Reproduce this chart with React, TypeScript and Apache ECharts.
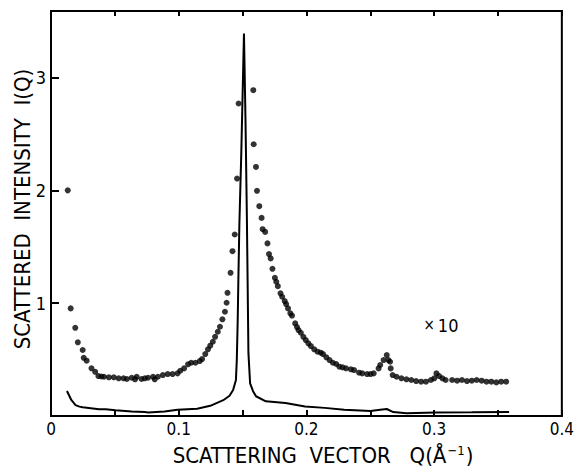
import React, { useEffect, useRef } from "react";
import * as echarts from "echarts";

// Dotted curve (x10 scaled intensity)
const Q_DOTS = [
  0.0131, 0.0154, 0.019, 0.021, 0.0248, 0.0256, 0.0279, 0.0317, 0.0346, 0.0371,
  0.0395, 0.0415, 0.0453, 0.0492, 0.053, 0.0568, 0.0594, 0.0632, 0.0658, 0.0671,
  0.0709, 0.0735, 0.076, 0.0799, 0.0812, 0.0837, 0.0876, 0.0914, 0.0952, 0.0991,
  0.1012, 0.1042, 0.1073, 0.1098, 0.1131, 0.1165, 0.1183, 0.1208, 0.1229, 0.1247,
  0.1267, 0.1285, 0.1306, 0.1323, 0.1342, 0.1362, 0.1375, 0.1382, 0.1406, 0.1421,
  0.1439, 0.1457, 0.1469,
  0.1584, 0.1587, 0.1605, 0.1613, 0.1631, 0.1649, 0.1657, 0.1677, 0.1695, 0.1707,
  0.172, 0.1734, 0.1753, 0.1764, 0.1776, 0.1797, 0.181, 0.183, 0.1841, 0.1856,
  0.1874, 0.1887, 0.1912, 0.1926, 0.1938, 0.1956, 0.1976, 0.1995, 0.2015, 0.2035,
  0.2061, 0.2087, 0.2112, 0.213, 0.2156, 0.2181, 0.2207, 0.2233, 0.2258, 0.2283,
  0.231, 0.2348, 0.2373, 0.2412, 0.2437, 0.2475, 0.2502, 0.2527, 0.2565, 0.2578,
  0.2604, 0.2629, 0.2642, 0.2655, 0.266, 0.2675, 0.2706, 0.2744, 0.2783, 0.2821,
  0.2859, 0.2898, 0.2936, 0.2975, 0.3001, 0.3018, 0.3039, 0.3065, 0.309, 0.3141,
  0.318, 0.3218, 0.3257, 0.3295, 0.3333, 0.3372, 0.341, 0.3448, 0.3487, 0.3525,
  0.3564,
];
const I_DOTS = [
  2.0, 0.954, 0.782, 0.653, 0.585, 0.516, 0.49, 0.423, 0.392, 0.354,
  0.35, 0.348, 0.343, 0.343, 0.334, 0.334, 0.328, 0.339, 0.325, 0.348,
  0.328, 0.334, 0.339, 0.348, 0.325, 0.348, 0.363, 0.372, 0.372, 0.378,
  0.401, 0.422, 0.458, 0.472, 0.472, 0.487, 0.505, 0.549, 0.591, 0.623,
  0.658, 0.702, 0.747, 0.791, 0.857, 0.924, 1.004, 1.092, 1.269, 1.461,
  1.609, 2.105, 2.77,
  2.888, 2.409, 2.208, 1.996, 1.86, 1.756, 1.656, 1.632, 1.53, 1.435,
  1.397, 1.305, 1.225, 1.19, 1.151, 1.087, 1.057, 1.019, 0.992, 0.954,
  0.91, 0.889, 0.821, 0.788, 0.762, 0.738, 0.702, 0.673, 0.644, 0.62,
  0.591, 0.57, 0.561, 0.549, 0.52, 0.496, 0.472, 0.461, 0.437, 0.431,
  0.423, 0.414, 0.407, 0.384, 0.378, 0.372, 0.372, 0.378, 0.422, 0.452,
  0.496, 0.54, 0.496, 0.481, 0.422, 0.363, 0.348, 0.334, 0.325, 0.319,
  0.31, 0.304, 0.304, 0.319, 0.334, 0.378, 0.354, 0.334, 0.319, 0.319,
  0.313, 0.319, 0.31, 0.313, 0.319, 0.313, 0.304, 0.304, 0.298, 0.304,
  0.304,
];

// Solid curve (unscaled intensity)
const Q_LINE = [
  0.0125, 0.0159, 0.0192, 0.0223, 0.0248, 0.0376, 0.0428, 0.0505, 0.0632, 0.0735,
  0.076, 0.0889, 0.0991, 0.1144, 0.1247, 0.1349, 0.1398, 0.1426, 0.1448, 0.1455,
  0.1462, 0.1467, 0.1475, 0.149, 0.1511, 0.1523, 0.1534, 0.1546, 0.1559, 0.1582,
  0.1605, 0.1682, 0.1836, 0.1989, 0.2143, 0.2296, 0.2502, 0.2578, 0.2629, 0.268,
  0.2783, 0.3013, 0.3295, 0.3587,
];
const I_LINE = [
  0.222, 0.142, 0.097, 0.083, 0.077, 0.059, 0.06, 0.05, 0.04, 0.035,
  0.032, 0.04, 0.055, 0.065, 0.09, 0.14, 0.18, 0.23, 0.32, 0.5,
  0.85, 1.2, 1.7, 2.33, 3.39, 2.62, 1.74, 0.555, 0.29, 0.22,
  0.175, 0.13, 0.115, 0.085, 0.072, 0.055, 0.045, 0.056, 0.062, 0.035,
  0.025, 0.032, 0.033, 0.036,
];

const X_MIN = 0;
const X_MAX = 0.4;
const X_STEP = 0.05;
const Y_MIN = 0;
const Y_MAX = 3.59;
const Y_STEP = 1;

const Y_TITLE = "SCATTERED  INTENSITY  I(Q)";
const X_TITLE_MAIN = "SCATTERING  VECTOR   Q(Å";
const X_TITLE_SUP = "−1";
const SCALE_NOTE = "10";

const FONT = "'DejaVu Sans Condensed', 'Liberation Sans Narrow', 'DejaVu Sans', sans-serif";

export default function App() {
  const ref = useRef<HTMLDivElement>(null);

  useEffect(() => {
    if (!ref.current) return;
    const chart = echarts.init(ref.current, undefined, { renderer: "svg" });

    const xLabel = (v: number) => {
      const r = Math.round(v * 100);
      if (r % 10 !== 0) return "";
      return r === 0 ? "0" : (r / 100).toFixed(1);
    };

    chart.setOption({
      animation: false,
      backgroundColor: "#fff",
      grid: {
        left: 51,
        right: 6,
        top: 11,
        bottom: 54,
        show: true,
        borderColor: "#000",
        borderWidth: 2,
        backgroundColor: "transparent",
      },
      xAxis: [
        {
          type: "value",
          min: X_MIN,
          max: X_MAX,
          interval: X_STEP,
          position: "bottom",
          axisLine: { show: true, lineStyle: { color: "#000", width: 2 } },
          axisTick: { show: true, inside: true, length: 6, lineStyle: { color: "#000", width: 2 } },
          axisLabel: {
            formatter: xLabel,
            color: "#000",
            fontSize: 17,
            lineHeight: 17,
            fontFamily: FONT,
            margin: 4,
          },
          splitLine: { show: false },
        },
        {
          type: "value",
          min: X_MIN,
          max: X_MAX,
          interval: X_STEP,
          position: "top",
          axisLine: { show: true, lineStyle: { color: "#000", width: 2 } },
          axisTick: { show: true, inside: true, length: 5, lineStyle: { color: "#000", width: 2 } },
          axisLabel: { show: false },
          splitLine: { show: false },
        },
      ],
      yAxis: {
        type: "value",
        min: Y_MIN,
        max: Y_MAX,
        interval: Y_STEP,
        axisLine: { show: true, lineStyle: { color: "#000", width: 2 } },
        axisTick: { show: true, inside: true, length: 8, lineStyle: { color: "#000", width: 2 } },
        axisLabel: {
          formatter: (v: number) => (Number.isInteger(v) && v > 0 ? String(v) : ""),
          color: "#000",
          fontSize: 18,
          fontFamily: FONT,
          margin: 5,
        },
        splitLine: { show: false },
      },
      series: [
        {
          type: "line",
          xAxisIndex: 0,
          data: Q_LINE.map((q, i) => [q, I_LINE[i]]),
          showSymbol: false,
          symbol: "none",
          lineStyle: { color: "#000", width: 2 },
          z: 2,
        },
        {
          type: "scatter",
          xAxisIndex: 0,
          data: Q_DOTS.map((q, i) => [q, I_DOTS[i]]),
          symbol: "circle",
          symbolSize: 6,
          itemStyle: { color: "#000" },
          z: 3,
        },
      ],
      graphic: [
        {
          type: "text",
          x: 22,
          y: 209,
          rotation: Math.PI / 2,
          style: {
            text: Y_TITLE,
            font: `22px ${FONT}`,
            fill: "#000",
            align: "center",
            verticalAlign: "middle",
          },
        },
        {
          type: "text",
          x: 323,
          y: 455,
          style: {
            text: `{m|${X_TITLE_MAIN}}{s|${X_TITLE_SUP}}{m|)}`,
            align: "center",
            verticalAlign: "middle",
            rich: {
              m: { fontSize: 22, lineHeight: 22, fontFamily: FONT, color: "#000" },
              s: { fontSize: 13, lineHeight: 13, fontFamily: FONT, color: "#000", verticalAlign: "top", padding: [0, 1, 0, 1] },
            },
          },
        },
        {
          type: "text",
          x: 441,
          y: 325,
          style: {
            text: `{x|×}{n|${SCALE_NOTE}}`,
            align: "center",
            verticalAlign: "middle",
            rich: {
              x: { fontSize: 15, fontFamily: FONT, color: "#000", padding: [0, 3, 0, 0] },
              n: { fontSize: 18, fontFamily: FONT, color: "#000" },
            },
          },
        },
      ],
    });

    return () => chart.dispose();
  }, []);

  return (
    <div
      ref={ref}
      style={{ position: "fixed", left: 0, top: 0, width: 577, height: 470, background: "#fff" }}
    />
  );
}
